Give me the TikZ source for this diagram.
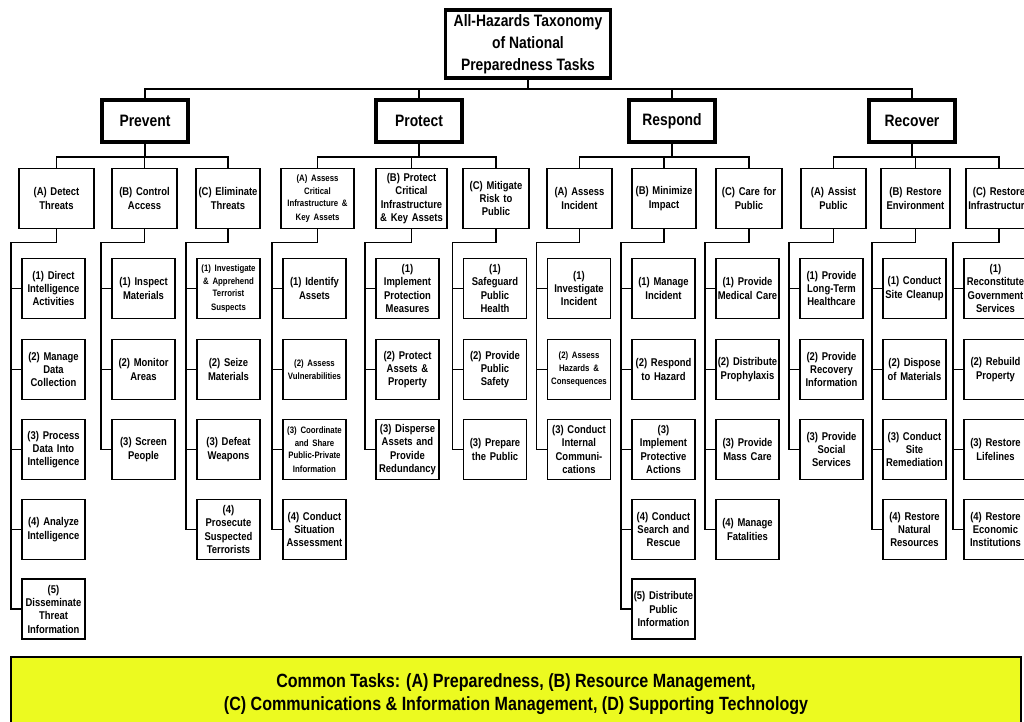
\documentclass[tikz,border=0pt]{standalone}
\usepackage{fontspec}
\setmainfont[FakeStretch=0.84]{Liberation Sans}
\usepackage{tikz}
\usetikzlibrary{positioning}
\usetikzlibrary{calc}
\hyphenpenalty=10000
\exhyphenpenalty=10000
\definecolor{taskyellow}{RGB}{236,250,32}
\newcommand{\smalltxt}{\fontsize{5.3}{7.2}\selectfont}
\tikzstyle{titlebox}=[draw,line width=2.2pt,fill=white,align=center,minimum width=3.3cm,minimum height=1.36cm,inner sep=1pt,font=\bfseries\fontsize{9.4}{12.5}\selectfont]
\tikzstyle{phasebox}=[draw,line width=2.2pt,fill=white,minimum width=1.72cm,minimum height=0.85cm,font=\bfseries\fontsize{9.4}{11}\selectfont]
\tikzstyle{taskbox}=[draw,line width=1.1pt,align=center,minimum height=1.2cm,inner sep=1pt,font=\bfseries\fontsize{6.4}{7.6}\selectfont]
\tikzstyle{subtaskbox}=[taskbox,text width=1.19cm]
\tikzstyle{treeedge}=[draw,line width=1pt]
\tikzstyle{commonbox}=[draw,line width=1pt,fill=taskyellow,align=center,minimum width=20.2cm,minimum height=1.48cm,font=\bfseries\fontsize{10.9}{13}\selectfont]

\begin{document}
\begin{tikzpicture}[x=0.02cm,y=-0.02cm]

    \useasboundingbox (0,0) rectangle (1024,721);
    \clip (0,0) rectangle (1024,721);

	\def\hb{198.5};
	\def\ya{288.5};
	\def\yb{369.5};
	\def\yc{449.5};
	\def\yd{529.5};
	\def\ye{609};

% Title
    \node[titlebox] (title) at (528,44) {All-Hazards Taxonomy\\of National\\Preparedness Tasks};

%layer 1
    \foreach \pos/\name/\label in {{(145,121)/prevent/Prevent}, {(419,121)/protect/Protect}, {(672,121)/respond/Respond}, {(912,121)/recover/Recover}}
        \node[phasebox] (\name) at \pos {\label};

%layer 2
    \foreach \pos/\name/\bw/\label in {{(56.5,\hb)/pva/1.43/{(A) Detect\\Threats}}, {(144.5,\hb)/pvb/1.23/{(B) Control\\Access}}, {(228,\hb)/pvc/1.21/{(C) Eliminate\\Threats}},
        {(317.5,\hb)/pta/1.39/{\smalltxt (A) Assess\\Critical\\Infrastructure \&\\Key Assets}}, {(411.5,\hb)/ptb/1.35/{(B) Protect\\Critical\\Infrastructure\\\& Key Assets}}, {(496,\hb)/ptc/1.25/{(C) Mitigate\\Risk to\\Public}},
        {(579.5,\hb)/rsa/1.23/{(A) Assess\\Incident}}, {(664,\hb)/rsb/1.21/{(B) Minimize\\Impact}}, {(749,\hb)/rsc/1.25/{(C) Care for\\Public}},
        {(833.5,\hb)/rca/1.23/{(A) Assist\\Public}}, {(915.5,\hb)/rcb/1.31/{(B) Restore\\Environment}}, {(999,\hb)/rcc/1.25/{(C) Restore\\Infrastructure}}}
        \node[taskbox,text width=\bw cm] (\name) at \pos {\label};

%layer 3
    % Prevent
    \foreach \y/\n/\label in {\ya/1/{(1) Direct\\Intelligence\\Activities}, \yb/2/{(2) Manage\\Data\\Collection}, \yc/3/{(3) Process\\Data Into\\Intelligence}, \yd/4/{(4) Analyze\\Intelligence}, \ye/5/{(5)\\Disseminate\\Threat\\Information}}
        \node[subtaskbox] (pva\n) at (53.5,\y) {\label};
    \foreach \y/\n/\label in {\ya/1/{(1) Inspect\\Materials}, \yb/2/{(2) Monitor\\Areas}, \yc/3/{(3) Screen\\People}}
        \node[subtaskbox] (pvb\n) at (143.5,\y) {\label};
    \foreach \y/\n/\label in {\ya/1/{\smalltxt (1) Investigate\\\& Apprehend\\Terrorist\\Suspects}, \yb/2/{(2) Seize\\Materials}, \yc/3/{(3) Defeat\\Weapons}, \yd/4/{(4)\\Prosecute\\Suspected\\Terrorists}}
        \node[subtaskbox] (pvc\n) at (228.5,\y) {\label};
    % Protect
    \foreach \y/\n/\label in {\ya/1/{(1) Identify\\Assets}, \yb/2/{\smalltxt (2) Assess\\Vulnerabilities}, \yc/3/{\smalltxt (3) Coordinate\\and Share\\Public-Private\\Information}, \yd/4/{(4) Conduct\\Situation\\Assessment}}
        \node[subtaskbox] (pta\n) at (314.5,\y) {\label};
    \foreach \y/\n/\label in {\ya/1/{(1)\\Implement\\Protection\\Measures}, \yb/2/{(2) Protect\\Assets \&\\Property}, \yc/3/{(3) Disperse\\Assets and\\Provide\\Redundancy}}
        \node[subtaskbox] (ptb\n) at (407.5,\y) {\label};
    \foreach \y/\n/\label in {\ya/1/{(1)\\Safeguard\\Public\\Health}, \yb/2/{(2) Provide\\Public\\Safety}, \yc/3/{(3) Prepare\\the Public}}
        \node[subtaskbox] (ptc\n) at (495,\y) {\label};
    % Respond
    \foreach \y/\n/\label in {\ya/1/{(1)\\Investigate\\Incident}, \yb/2/{\smalltxt (2) Assess\\Hazards \&\\Consequences}, \yc/3/{(3) Conduct\\Internal\\Communi-\\cations}}
        \node[subtaskbox] (rsa\n) at (579,\y) {\label};
    \foreach \y/\n/\label in {\ya/1/{(1) Manage\\Incident}, \yb/2/{(2) Respond\\to Hazard}, \yc/3/{(3)\\Implement\\Protective\\Actions}, \yd/4/{(4) Conduct\\Search and\\Rescue}, \ye/5/{(5) Distribute\\Public\\Information}}
        \node[subtaskbox] (rsb\n) at (663.5,\y) {\label};
    \foreach \y/\n/\label in {\ya/1/{(1) Provide\\Medical Care}, \yb/2/{(2) Distribute\\Prophylaxis}, \yc/3/{(3) Provide\\Mass Care}, \yd/4/{(4) Manage\\Fatalities}}
        \node[subtaskbox] (rsc\n) at (747.5,\y) {\label};
    % Recover
    \foreach \y/\n/\label in {\ya/1/{(1) Provide\\Long-Term\\Healthcare}, \yb/2/{(2) Provide\\Recovery\\Information}, \yc/3/{(3) Provide\\Social\\Services}}
        \node[subtaskbox] (rca\n) at (831.5,\y) {\label};
    \foreach \y/\n/\label in {\ya/1/{(1) Conduct\\Site Cleanup}, \yb/2/{(2) Dispose\\of Materials}, \yc/3/{(3) Conduct\\Site\\Remediation}, \yd/4/{(4) Restore\\Natural\\Resources}}
        \node[subtaskbox] (rcb\n) at (914.5,\y) {\label};
    \foreach \y/\n/\label in {\ya/1/{(1)\\Reconstitute\\Government\\Services}, \yb/2/{(2) Rebuild\\Property}, \yc/3/{(3) Restore\\Lifelines}, \yd/4/{(4) Restore\\Economic\\Institutions}}
        \node[subtaskbox] (rcc\n) at (995.5,\y) {\label};

 % Edges
 	%layer 1
  	\foreach \dest in {prevent, protect, respond, recover}
		\path[treeedge] (title.south) -- ++(0,9) -| (\dest.north);
	%layer 2
  	\foreach \source/\g in {prevent/pv, protect/pt, respond/rs, recover/rc}
  	  \foreach \c in {a,b,c}
		\path[treeedge] (\source.south) -- ++(0,13) -| (\g\c.north);
	%layer 3
  	\foreach \g/\last in {pva/5, pvb/3, pvc/4, pta/4, ptb/3, ptc/3, rsa/3, rsb/5, rsc/4, rca/3, rcb/4, rcc/4}
  	  \foreach \n in {1,...,\last}
		\path[treeedge] (\g.south) -- ++(0,13) -| ($(\g\n.west)+(-10,0)$) -- (\g\n.west);

% Common tasks
    \node[commonbox] (common) at (516,694) {Common Tasks: (A) Preparedness, (B) Resource Management,\\(C) Communications \& Information Management, (D) Supporting Technology};

\end{tikzpicture}
\end{document}
